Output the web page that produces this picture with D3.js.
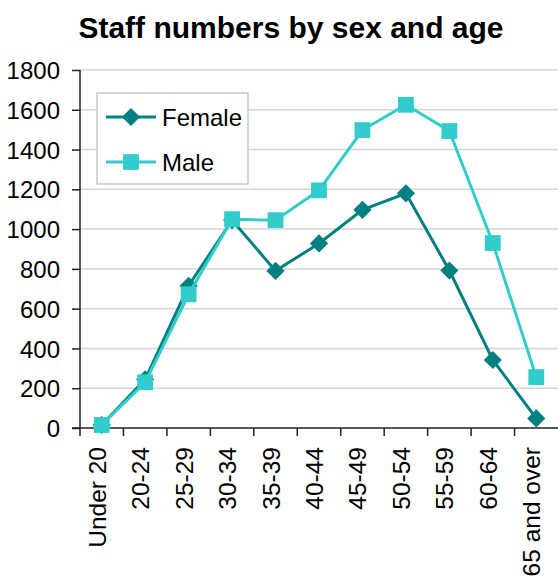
<!DOCTYPE html>
<html>
<head>
<meta charset="utf-8">
<script src="https://cdn.jsdelivr.net/npm/d3@7"></script>
<style>
  body { margin: 0; background: #fff; }
  svg { display: block; font-family: "Liberation Sans", Arial, sans-serif; }
</style>
</head>
<body>
<svg class="chart" width="558" height="582"></svg>
<script>
// data
var ageGroups = ["Under 20", "20-24", "25-29", "30-34", "35-39", "40-44", "45-49", "50-54", "55-59", "60-64", "65 and over"];
var female = [15, 245, 715, 1045, 790, 928, 1097, 1180, 792, 342, 48];
var male = [15, 230, 672, 1050, 1045, 1195, 1498, 1625, 1493, 930, 256];
var yTicks = [0, 200, 400, 600, 800, 1000, 1200, 1400, 1600, 1800];

var svg = d3.select("svg.chart"),
    margin = {top: 70, right: 0, bottom: 154, left: 80};
var width = 558 - margin.left - margin.right,
    height = 582 - margin.top - margin.bottom;
var g = svg.append("g").attr("transform", "translate(" + margin.left + "," + margin.top + ")");

var x = d3.scaleBand().domain(ageGroups).range([0, width]);
var y = d3.scaleLinear().domain([0, 1800]).range([height, 0]);

// title
svg.append("text")
    .attr("x", 291).attr("y", 38)
    .attr("text-anchor", "middle")
    .style("font-size", "30px").style("font-weight", "bold")
    .text("Staff numbers by sex and age");

// gridlines
g.selectAll("line.grid").data(yTicks.slice(1)).enter().append("line")
    .attr("class", "grid")
    .attr("x1", 0).attr("x2", width)
    .attr("y1", function(d) { return y(d); }).attr("y2", function(d) { return y(d); })
    .attr("stroke", "#d4d4d4").attr("stroke-width", 1.5);

// y axis
var yAxis = g.append("g")
    .call(d3.axisLeft(y).tickValues(yTicks).tickSize(8).tickPadding(12).tickFormat(d3.format("d")));
yAxis.selectAll("text").style("font-size", "24px").attr("fill", "#000").attr("dy", "0.36em");
yAxis.select(".domain").attr("stroke", "#222").attr("stroke-width", 1.5).attr("d", "M0,0V" + height);
yAxis.selectAll(".tick line").attr("stroke", "#222").attr("stroke-width", 1.5);

// x axis, ticks at band boundaries
var xAxis = g.append("g").attr("transform", "translate(0," + height + ")");
xAxis.append("line").attr("x1", -8).attr("x2", width).attr("stroke", "#222").attr("stroke-width", 1.5);
xAxis.selectAll("line.tk").data(ageGroups).enter().append("line")
    .attr("class", "tk")
    .attr("x1", function(d) { return x(d); }).attr("x2", function(d) { return x(d); })
    .attr("y1", 0).attr("y2", 8)
    .attr("stroke", "#222").attr("stroke-width", 1.5);
xAxis.selectAll("text").data(ageGroups).enter().append("text")
    .attr("transform", function(d) { return "translate(" + (x(d) + x.bandwidth() / 2 + 4) + ",19) rotate(-90)"; })
    .attr("text-anchor", "end")
    .style("font-size", "24.5px")
    .text(function(d) { return d; });

// lines (diamond = square turned 45deg)
var series = [
  {name: "Female", values: female, color: "#008080", size: 165, rot: 45},
  {name: "Male", values: male, color: "#33CCCC", size: 250, rot: 0}
];
var marker = function(s) { return d3.symbol().type(d3.symbolSquare).size(s.size); };

var line = d3.line()
    .x(function(d, i) { return x(ageGroups[i]) + x.bandwidth() / 2; })
    .y(function(d) { return y(d); });

series.forEach(function(s) {
  g.append("path")
      .datum(s.values)
      .attr("fill", "none")
      .attr("stroke", s.color)
      .attr("stroke-width", 3)
      .attr("d", line);
  g.selectAll(null).data(s.values).enter().append("path")
      .attr("transform", function(d, i) {
        return "translate(" + (x(ageGroups[i]) + x.bandwidth() / 2) + "," + y(d) + ") rotate(" + s.rot + ")";
      })
      .attr("d", marker(s))
      .attr("fill", s.color);
});

// legend
var legend = svg.append("g").attr("transform", "translate(97,93)");
legend.append("rect")
    .attr("width", 151).attr("height", 91)
    .attr("fill", "#fff").attr("stroke", "#c8c8c8").attr("stroke-width", 1.5);
series.forEach(function(s, i) {
  var ly = 24 + i * 45;
  legend.append("line")
      .attr("x1", 9).attr("x2", 59).attr("y1", ly).attr("y2", ly)
      .attr("stroke", s.color).attr("stroke-width", 3);
  legend.append("path")
      .attr("transform", "translate(34," + ly + ") rotate(" + s.rot + ")")
      .attr("d", marker(s))
      .attr("fill", s.color);
  legend.append("text")
      .attr("x", 65).attr("y", ly).attr("dy", "0.36em")
      .style("font-size", "24px")
      .text(s.name);
});
</script>
</body>
</html>
